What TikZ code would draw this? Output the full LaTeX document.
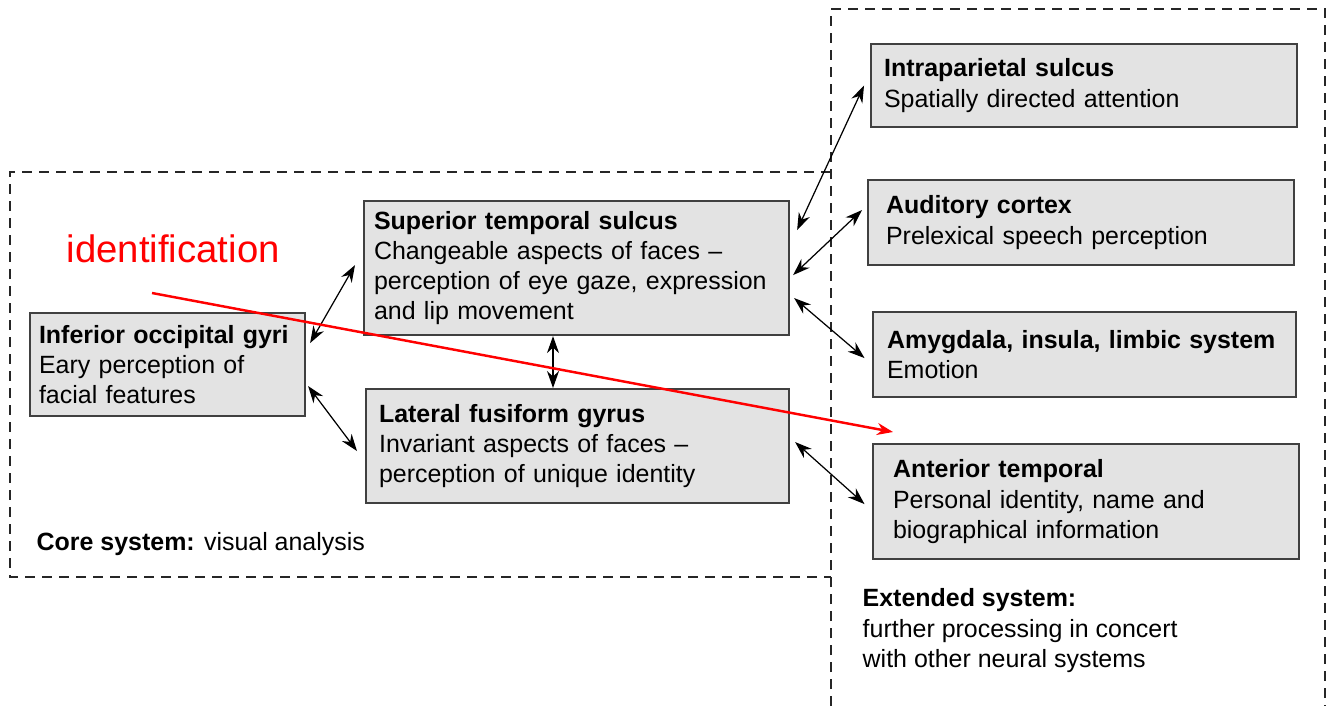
\documentclass[tikz,border=0pt]{standalone}
\usepackage{fontspec}
\setmainfont{Liberation Sans}
\usetikzlibrary{arrows.meta}

\begin{document}
\begin{tikzpicture}[
    area/.style={draw=black!75, line width=0.6pt, fill=black!11, anchor=north west, align=left, inner ysep=0pt, font=\fontsize{7.1}{8.6}\selectfont},
    link/.style={{Stealth[length=0.17cm,width=0.12cm]}-{Stealth[length=0.17cm,width=0.12cm]}, line width=0.35pt},
    system/.style={dash pattern=on 0.1cm off 0.07cm, line width=0.55pt, black!85},
    caption/.style={inner sep=0pt, align=left, font=\fontsize{7.1}{8.6}\selectfont}]

  \useasboundingbox[fill=white] (0,0) rectangle (13.32,7.06);

  \draw[system] (8.31,5.34) -- (0.10,5.34) -- (0.10,1.29) -- (8.31,1.29);
  \draw[system] (8.31,0) -- (8.31,6.97) -- (13.25,6.97) -- (13.25,0);

  \node[area, inner xsep=0.09cm, text width=2.57cm, minimum height=1.03cm] (iog) at (0.29,3.94) {\textbf{Inferior occipital gyri}\\Eary perception of\\facial features};
  \node[area, inner xsep=0.1cm, text width=4.05cm, minimum height=1.34cm] (sts) at (3.63,5.06) {\textbf{Superior temporal sulcus}\\Changeable aspects of faces --\\perception of eye gaze, expression\\and lip movement};
  \node[area, inner xsep=0.13cm, text width=3.97cm, minimum height=1.14cm] (lfg) at (3.65,3.18) {\textbf{Lateral fusiform gyrus}\\Invariant aspects of faces --\\perception of unique identity};
  \node[area, inner xsep=0.13cm, text width=4.0cm, minimum height=0.83cm] (ips) at (8.70,6.63) {\textbf{Intraparietal sulcus}\\Spatially directed attention};
  \node[area, inner xsep=0.18cm, text width=3.9cm, minimum height=0.85cm] (aud) at (8.67,5.27) {\textbf{Auditory cortex}\\Prelexical speech perception};
  \node[area, inner xsep=0.14cm, text width=3.95cm, minimum height=0.85cm] (amy) at (8.72,3.95) {\textbf{Amygdala, insula, limbic system}\\Emotion};
  \node[area, inner xsep=0.2cm, text width=3.86cm, minimum height=1.15cm] (ant) at (8.72,2.63) {\textbf{Anterior temporal}\\Personal identity, name and\\biographical information};

  \node[caption, anchor=base west] (core) at (0.36,1.56) {\textbf{Core system:} visual analysis};
  \node[caption, anchor=north west] (ext) at (8.62,1.18) {\textbf{Extended system:}\\further processing in concert\\with other neural systems};

  \draw[link] ([shift={(0.04,0.215)}]iog.east) -- ([shift={(-0.08,0.03)}]sts.west);
  \draw[link] ([shift={(0.02,-0.215)}]iog.east) -- ([shift={(-0.08,-0.05)}]lfg.west);
  \draw[link] ([xshift=1.9cm]sts.south west) -- ([xshift=1.88cm]lfg.north west);
  \draw[link] ([shift={(0.07,-0.30)}]sts.north east) -- ([xshift=-0.06cm]ips.west);
  \draw[link] ([shift={(0.03,-0.07)}]sts.east) -- ([shift={(-0.05,0.125)}]aud.west);
  \draw[link] ([shift={(0.04,-0.30)}]sts.east) -- ([shift={(-0.075,-0.035)}]amy.west);
  \draw[link] ([shift={(0.05,0.04)}]lfg.east) -- ([shift={(-0.075,-0.025)}]ant.west);

  \node[text=red, inner sep=0pt, anchor=base west, font=\fontsize{10.9}{13}\selectfont] (ident) at (0.66,4.44) {identification};
  \coordinate (identfrom) at (1.52,4.13);
  \coordinate (identto) at (8.93,2.74);
  \draw[red, line width=0.7pt, -{Stealth[length=0.16cm,width=0.12cm]}] (identfrom) -- (identto);
\end{tikzpicture}
\end{document}
